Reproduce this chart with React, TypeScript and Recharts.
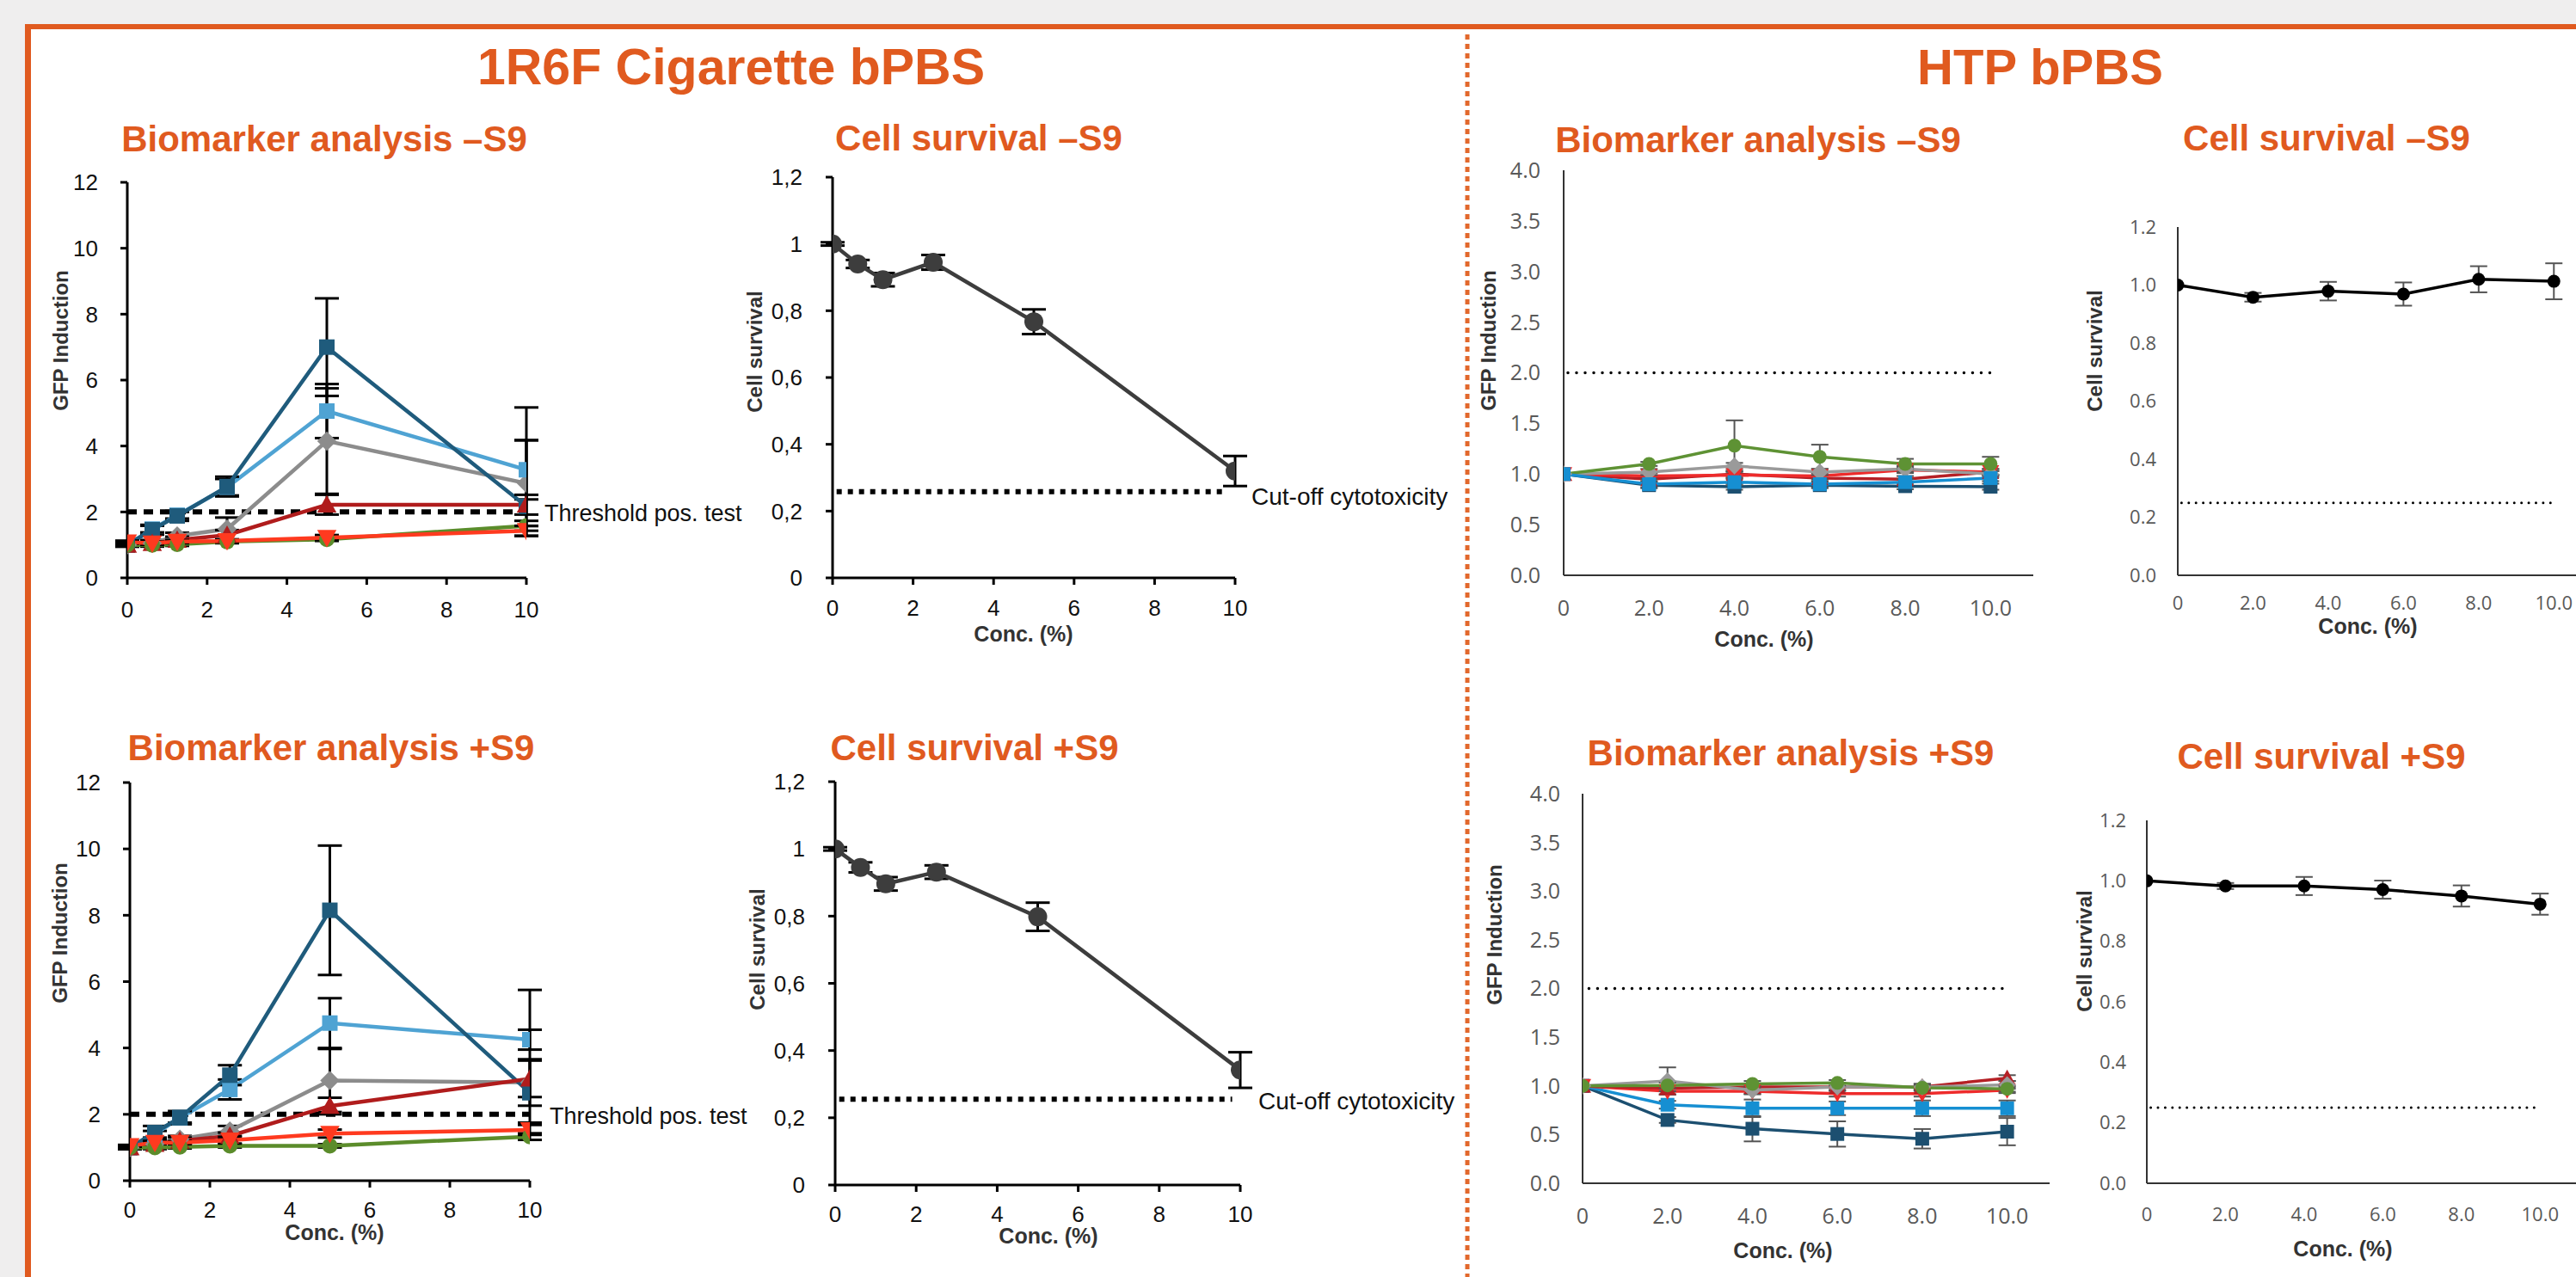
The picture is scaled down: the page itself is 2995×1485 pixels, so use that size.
import React from 'react';
import { LineChart, Line, XAxis, YAxis, ErrorBar, ReferenceLine } from 'recharts';

const ORANGE = '#e05a1f';
const ARIAL = '"Liberation Sans", Arial, Helvetica, sans-serif';
const CALIBRI = '"Open Sans", "Liberation Sans", sans-serif';

// concentrations (%)
const CONC_1R6F = [0, 0.625, 1.25, 2.5, 5, 10];
const CONC_HTP = [0, 2, 4, 6, 8, 10];

type Err = number | [number, number];

// 1R6F biomarker -S9
const A_GREY = [1.0, 1.05, 1.27, 1.48, 4.15, 2.87];
const A_GREY_ERR: Err[] = [0.05, 0.1, 0.1, 0.35, 1.6, 1.3];
const A_LIGHT_BLUE = [1.0, 1.48, 1.9, 2.75, 5.06, 3.28];
const A_LIGHT_BLUE_ERR: Err[] = [0.05, 0.1, 0.1, 0.25, 0.82, 0.9];
const A_DARK_BLUE = [1.0, 1.46, 1.88, 2.77, 7.0, 2.17];
const A_DARK_BLUE_ERR: Err[] = [0.05, 0.15, 0.15, 0.3, 1.48, [0.9, 3.0]];
const A_DARK_RED = [1.0, 1.05, 1.15, 1.3, 2.22, 2.22];
const A_DARK_RED_ERR: Err[] = [0.05, 0.05, 0.1, 0.15, 0.3, 0.3];
const A_GREEN = [1.0, 1.0, 1.02, 1.1, 1.17, 1.58];
const A_GREEN_ERR: Err[] = [0.05, 0.05, 0.05, 0.05, 0.05, 0.15];
const A_RED = [1.08, 1.05, 1.1, 1.12, 1.22, 1.43];
const A_RED_ERR: Err[] = [0.05, 0.05, 0.05, 0.05, 0.08, 0.15];

// 1R6F cell survival -S9
const B_SURVIVAL = [1.0, 0.94, 0.893, 0.945, 0.767, 0.32];
const B_ERR: Err[] = [0.005, 0.012, 0.02, 0.022, 0.037, 0.045];

// 1R6F biomarker +S9
const C_GREY = [1.0, 1.1, 1.25, 1.5, 3.02, 2.96];
const C_GREY_ERR: Err[] = [0.05, 0.1, 0.1, 0.15, 0.95, 0.7];
const C_LIGHT_BLUE = [1.0, 1.4, 1.9, 2.75, 4.75, 4.25];
const C_LIGHT_BLUE_ERR: Err[] = [0.05, 0.1, 0.15, 0.3, 0.75, 0.3];
const C_DARK_BLUE = [1.0, 1.45, 1.9, 3.18, 8.15, 2.65];
const C_DARK_BLUE_ERR: Err[] = [0.05, 0.2, 0.2, 0.3, 1.95, [0.9, 3.1]];
const C_DARK_RED = [1.0, 1.1, 1.2, 1.35, 2.25, 3.07];
const C_DARK_RED_ERR: Err[] = [0.05, 0.05, 0.1, 0.1, 0.25, 0.55];
const C_GREEN = [1.0, 1.0, 1.02, 1.05, 1.05, 1.33];
const C_GREEN_ERR: Err[] = [0.03, 0.05, 0.05, 0.05, 0.05, 0.1];
const C_RED = [1.05, 1.15, 1.15, 1.22, 1.42, 1.53];
const C_RED_ERR: Err[] = [0.03, 0.05, 0.05, 0.1, 0.12, 0.15];

// 1R6F cell survival +S9
const D_SURVIVAL = [1.0, 0.945, 0.896, 0.931, 0.798, 0.342];
const D_ERR: Err[] = [0.005, 0.015, 0.02, 0.02, 0.042, 0.053];

// HTP biomarker -S9
const E_DARK_BLUE = [1.0, 0.89, 0.875, 0.89, 0.88, 0.875];
const E_LIGHT_BLUE = [1.0, 0.9, 0.92, 0.9, 0.92, 0.96];
const E_DARK_RED = [1.0, 0.95, 1.0, 0.96, 0.95, 1.02];
const E_RED = [1.0, 0.98, 0.99, 0.98, 1.04, 1.02];
const E_GREY = [1.0, 1.02, 1.08, 1.02, 1.05, 1.0];
const E_GREEN = [1.0, 1.1, 1.28, 1.17, 1.1, 1.1];
const E_SMALL_ERR: Err[] = [0, 0.03, 0.03, 0.03, 0.03, 0.03];
const E_GREEN_ERR: Err[] = [0, 0.02, 0.25, 0.12, 0.05, 0.07];

// HTP cell survival -S9
const F_SURVIVAL = [1.0, 0.958, 0.979, 0.969, 1.02, 1.013];
const F_ERR: Err[] = [0, 0.015, 0.032, 0.04, 0.045, 0.062];

// HTP biomarker +S9
const G_DARK_BLUE = [1.0, 0.65, 0.56, 0.506, 0.457, 0.53];
const G_DARK_BLUE_ERR: Err[] = [0, 0.03, 0.13, 0.13, 0.1, 0.14];
const G_LIGHT_BLUE = [1.0, 0.806, 0.77, 0.77, 0.77, 0.77];
const G_LIGHT_BLUE_ERR: Err[] = [0, 0.04, 0.09, 0.07, 0.08, 0.08];
const G_DARK_RED = [1.0, 0.975, 0.99, 0.99, 0.99, 1.08];
const G_RED = [1.0, 0.945, 0.945, 0.92, 0.92, 0.956];
const G_GREY = [1.0, 1.05, 0.956, 0.99, 0.99, 1.01];
const G_GREY_ERR: Err[] = [0, 0.14, 0.04, 0.04, 0.03, 0.04];
const G_GREEN = [1.0, 1.005, 1.02, 1.03, 0.98, 0.97];
const G_SMALL_ERR: Err[] = [0, 0.03, 0.03, 0.03, 0.03, 0.03];

// HTP cell survival +S9
const H_SURVIVAL = [1.0, 0.983, 0.983, 0.971, 0.95, 0.923];
const H_ERR: Err[] = [0, 0.01, 0.03, 0.03, 0.035, 0.035];

const GFP_TICKS_1R6F = [0, 2, 4, 6, 8, 10, 12];
const GFP_TICKS_HTP = [0, 0.5, 1, 1.5, 2, 2.5, 3, 3.5, 4];
const SURV_TICKS = [0, 0.2, 0.4, 0.6, 0.8, 1, 1.2];
const X_TICKS = [0, 2, 4, 6, 8, 10];

type Shape = 'square' | 'circle' | 'diamond' | 'triUp' | 'triDown';
type Series = { key: string; values: number[]; errors: Err[]; color: string; shape: Shape };

const C1 = { db: '#1f5b7c', lb: '#4fa3d3', gr: '#8c8c8c', dr: '#b01c1c', gn: '#5b8c2b', rd: '#ff3a1f' };
const C2 = { db: '#1c4f70', lb: '#168fd2', gr: '#9a9a9a', dr: '#b52025', gn: '#5e9234', rd: '#ee2b2b' };

const makeDot = (shape: Shape, size: number, fill: string) => (p: any) => {
  const { cx, cy, index } = p;
  const k = `${shape}-${index}`;
  if (cx == null || cy == null) return <g key={k} />;
  const h = size / 2;
  if (shape === 'square') return <rect key={k} x={cx - h} y={cy - h} width={size} height={size} fill={fill} />;
  if (shape === 'circle') return <circle key={k} cx={cx} cy={cy} r={h} fill={fill} />;
  const d = h * 1.25;
  let pts = '';
  if (shape === 'diamond') pts = `${cx},${cy - d} ${cx + d},${cy} ${cx},${cy + d} ${cx - d},${cy}`;
  if (shape === 'triUp') pts = `${cx},${cy - d} ${cx + d},${cy + h} ${cx - d},${cy + h}`;
  if (shape === 'triDown') pts = `${cx},${cy + d} ${cx + d},${cy - h} ${cx - d},${cy - h}`;
  return <polygon key={k} points={pts} fill={fill} />;
};

type PanelCfg = {
  box: [number, number, number, number];
  plot: [number, number, number, number];
  xs: number[];
  series: Series[];
  xDomain: [number, number];
  xFmt: (v: number) => string;
  yDomain: [number, number];
  yTicks: number[];
  yFmt: (v: number) => string;
  excel: boolean;
  tickFont: number;
  xGap: number;
  yGap: number;
  lineWidth: number;
  marker: number;
  errColor: string;
  errWidth: number;
  cap: number;
  ref: { y: number; x0: number; x1: number; width: number; dash: string; round?: boolean };
};

function Panel({ cfg }: { cfg: PanelCfg }) {
  const [L, T, W, H] = cfg.box;
  const [px0, py0, px1, py1] = cfg.plot;
  const rows = cfg.xs.map((x, i) => {
    const r: any = { x };
    cfg.series.forEach((s) => {
      r[s.key] = s.values[i];
      r[s.key + 'E'] = s.errors[i];
    });
    return r;
  });
  const axis = cfg.excel ? { stroke: '#333', strokeWidth: 2 } : { stroke: '#000', strokeWidth: 3 };
  const tick = cfg.excel
    ? { fill: '#595959', fontSize: cfg.tickFont, fontFamily: CALIBRI }
    : { fill: '#111', fontSize: cfg.tickFont, fontFamily: ARIAL };
  const ts = cfg.excel ? 0 : 8;
  return (
    <div style={{ position: 'absolute', left: L, top: T, width: W, height: H }}>
      <LineChart width={W} height={H} data={rows} margin={{ top: py0 - T, right: L + W - px1, bottom: 0, left: 0 }}>
        <XAxis
          type="number"
          dataKey="x"
          domain={cfg.xDomain}
          ticks={X_TICKS}
          interval={0}
          height={T + H - py1}
          axisLine={axis}
          tickLine={cfg.excel ? false : axis}
          tickSize={ts}
          tickMargin={cfg.xGap - ts}
          tick={tick}
          tickFormatter={cfg.xFmt}
          allowDataOverflow
        />
        <YAxis
          type="number"
          domain={cfg.yDomain}
          ticks={cfg.yTicks}
          interval={0}
          width={px0 - L}
          axisLine={axis}
          tickLine={cfg.excel ? false : axis}
          tickSize={ts}
          tickMargin={cfg.yGap - ts}
          tick={tick}
          tickFormatter={cfg.yFmt}
          allowDataOverflow
        />
        <ReferenceLine
          segment={[{ x: cfg.ref.x0, y: cfg.ref.y }, { x: cfg.ref.x1, y: cfg.ref.y }]}
          stroke="#000"
          strokeWidth={cfg.ref.width}
          strokeDasharray={cfg.ref.dash}
          strokeLinecap={cfg.ref.round ? 'round' : 'butt'}
          ifOverflow="visible"
        />
        {cfg.series.map((s) => (
          <Line
            key={s.key}
            type="linear"
            dataKey={s.key}
            stroke={s.color}
            strokeWidth={cfg.lineWidth}
            dot={makeDot(s.shape, cfg.marker, s.color)}
            activeDot={false}
            isAnimationActive={false}
          >
            <ErrorBar dataKey={s.key + 'E'} direction="y" width={cfg.cap} strokeWidth={cfg.errWidth} stroke={cfg.errColor} />
          </Line>
        ))}
      </LineChart>
    </div>
  );
}

const intFmt = (v: number) => String(v);
const commaFmt = (v: number) => String(v).replace('.', ',');
const htpXFmt = (v: number) => (v === 0 ? '0' : v.toFixed(1));
const oneDec = (v: number) => v.toFixed(1);

const sigmaBase = {
  xs: CONC_1R6F,
  xDomain: [0, 10] as [number, number],
  xFmt: intFmt,
  excel: false,
  tickFont: 26,
  errColor: '#000',
  errWidth: 3,
};
const excelBase = {
  xs: CONC_HTP,
  xDomain: [0, 11] as [number, number],
  xFmt: htpXFmt,
  excel: true,
  errColor: '#555',
  errWidth: 2,
};

const bioSeries1 = (
  gr: number[], grE: Err[], lb: number[], lbE: Err[], db: number[], dbE: Err[],
  dr: number[], drE: Err[], gn: number[], gnE: Err[], rd: number[], rdE: Err[]
): Series[] => [
  { key: 'gr', values: gr, errors: grE, color: C1.gr, shape: 'diamond' },
  { key: 'lb', values: lb, errors: lbE, color: C1.lb, shape: 'square' },
  { key: 'db', values: db, errors: dbE, color: C1.db, shape: 'square' },
  { key: 'dr', values: dr, errors: drE, color: C1.dr, shape: 'triUp' },
  { key: 'gn', values: gn, errors: gnE, color: C1.gn, shape: 'circle' },
  { key: 'rd', values: rd, errors: rdE, color: C1.rd, shape: 'triDown' },
];

const PANELS: PanelCfg[] = [
  {
    ...sigmaBase,
    box: [40, 180, 600, 570],
    plot: [148, 212, 612, 672],
    series: bioSeries1(A_GREY, A_GREY_ERR, A_LIGHT_BLUE, A_LIGHT_BLUE_ERR, A_DARK_BLUE, A_DARK_BLUE_ERR,
      A_DARK_RED, A_DARK_RED_ERR, A_GREEN, A_GREEN_ERR, A_RED, A_RED_ERR),
    yDomain: [0, 12], yTicks: GFP_TICKS_1R6F, yFmt: intFmt,
    xGap: 28, yGap: 34, lineWidth: 4.5, marker: 18, cap: 14,
    ref: { y: 2, x0: 0, x1: 10, width: 6, dash: '11 8' },
  },
  {
    ...sigmaBase,
    box: [860, 175, 610, 575],
    plot: [968, 206, 1436, 672],
    series: [{ key: 'cs', values: B_SURVIVAL, errors: B_ERR, color: '#3d3d3d', shape: 'circle' }],
    yDomain: [0, 1.2], yTicks: SURV_TICKS, yFmt: commaFmt,
    xGap: 26, yGap: 35, lineWidth: 4.5, marker: 22, cap: 14,
    ref: { y: 0.258, x0: 0.1, x1: 9.8, width: 6, dash: '6 7' },
  },
  {
    ...sigmaBase,
    box: [40, 880, 600, 585],
    plot: [151, 910, 616, 1373],
    series: bioSeries1(C_GREY, C_GREY_ERR, C_LIGHT_BLUE, C_LIGHT_BLUE_ERR, C_DARK_BLUE, C_DARK_BLUE_ERR,
      C_DARK_RED, C_DARK_RED_ERR, C_GREEN, C_GREEN_ERR, C_RED, C_RED_ERR),
    yDomain: [0, 12], yTicks: GFP_TICKS_1R6F, yFmt: intFmt,
    xGap: 25, yGap: 34, lineWidth: 4.5, marker: 18, cap: 14,
    ref: { y: 2, x0: 0, x1: 10, width: 6, dash: '11 8' },
  },
  {
    ...sigmaBase,
    box: [860, 880, 610, 585],
    plot: [971, 909, 1442, 1378],
    series: [{ key: 'cs', values: D_SURVIVAL, errors: D_ERR, color: '#3d3d3d', shape: 'circle' }],
    yDomain: [0, 1.2], yTicks: SURV_TICKS, yFmt: commaFmt,
    xGap: 25, yGap: 35, lineWidth: 4.5, marker: 22, cap: 14,
    ref: { y: 0.255, x0: 0.1, x1: 9.8, width: 6, dash: '6 7' },
  },
  {
    ...excelBase,
    box: [1730, 165, 660, 585],
    plot: [1818, 198, 2364, 669],
    series: [
      { key: 'db', values: E_DARK_BLUE, errors: E_SMALL_ERR, color: C2.db, shape: 'square' },
      { key: 'dr', values: E_DARK_RED, errors: E_SMALL_ERR, color: C2.dr, shape: 'triUp' },
      { key: 'rd', values: E_RED, errors: E_SMALL_ERR, color: C2.rd, shape: 'triDown' },
      { key: 'gr', values: E_GREY, errors: E_SMALL_ERR, color: C2.gr, shape: 'diamond' },
      { key: 'gn', values: E_GREEN, errors: E_GREEN_ERR, color: C2.gn, shape: 'circle' },
      { key: 'lb', values: E_LIGHT_BLUE, errors: E_SMALL_ERR, color: C2.lb, shape: 'square' },
    ],
    yDomain: [0, 4], yTicks: GFP_TICKS_HTP, yFmt: oneDec, tickFont: 25,
    xGap: 29, yGap: 27, lineWidth: 3.5, marker: 16, cap: 10,
    ref: { y: 2, x0: 0.1, x1: 10, width: 3.5, dash: '0.01 10', round: true },
  },
  {
    ...excelBase,
    box: [2440, 230, 600, 520],
    plot: [2532, 264, 3013, 669],
    series: [{ key: 'cs', values: F_SURVIVAL, errors: F_ERR, color: '#000', shape: 'circle' }],
    yDomain: [0, 1.2], yTicks: SURV_TICKS, yFmt: oneDec, tickFont: 22,
    xGap: 24, yGap: 25, lineWidth: 3.5, marker: 15, cap: 10,
    ref: { y: 0.25, x0: 0.1, x1: 10, width: 3, dash: '0.01 8.4', round: true },
  },
  {
    ...excelBase,
    box: [1740, 890, 660, 575],
    plot: [1840, 923, 2383, 1376],
    series: [
      { key: 'db', values: G_DARK_BLUE, errors: G_DARK_BLUE_ERR, color: C2.db, shape: 'square' },
      { key: 'lb', values: G_LIGHT_BLUE, errors: G_LIGHT_BLUE_ERR, color: C2.lb, shape: 'square' },
      { key: 'rd', values: G_RED, errors: G_SMALL_ERR, color: C2.rd, shape: 'triDown' },
      { key: 'dr', values: G_DARK_RED, errors: G_SMALL_ERR, color: C2.dr, shape: 'triUp' },
      { key: 'gr', values: G_GREY, errors: G_GREY_ERR, color: C2.gr, shape: 'diamond' },
      { key: 'gn', values: G_GREEN, errors: G_SMALL_ERR, color: C2.gn, shape: 'circle' },
    ],
    yDomain: [0, 4], yTicks: GFP_TICKS_HTP, yFmt: oneDec, tickFont: 25,
    xGap: 29, yGap: 26, lineWidth: 3.5, marker: 16, cap: 10,
    ref: { y: 2, x0: 0.15, x1: 10, width: 3.5, dash: '0.01 10', round: true },
  },
  {
    ...excelBase,
    box: [2410, 920, 620, 550],
    plot: [2496, 954, 2999, 1376],
    series: [{ key: 'cs', values: H_SURVIVAL, errors: H_ERR, color: '#000', shape: 'circle' }],
    yDomain: [0, 1.2], yTicks: SURV_TICKS, yFmt: oneDec, tickFont: 22,
    xGap: 28, yGap: 24, lineWidth: 3.5, marker: 15, cap: 10,
    ref: { y: 0.25, x0: 0.1, x1: 10, width: 3, dash: '0.01 8.4', round: true },
  },
];

// overlay texts
const SECTION_TITLES = [
  { t: '1R6F Cigarette bPBS', x: 850, y: 98, s: 59 },
  { t: 'HTP bPBS', x: 2372, y: 98, s: 58 },
];
const PANEL_TITLES = [
  { t: 'Biomarker analysis –S9', x: 377, y: 176 },
  { t: 'Cell survival –S9', x: 1138, y: 175 },
  { t: 'Biomarker analysis +S9', x: 385, y: 884 },
  { t: 'Cell survival +S9', x: 1133, y: 884 },
  { t: 'Biomarker analysis –S9', x: 2044, y: 177 },
  { t: 'Cell survival –S9', x: 2705, y: 175 },
  { t: 'Biomarker analysis +S9', x: 2082, y: 890 },
  { t: 'Cell survival +S9', x: 2699, y: 894 },
];
const Y_LABELS = [
  { t: 'GFP Induction', x: 70, y: 396 },
  { t: 'Cell survival', x: 877, y: 409 },
  { t: 'GFP Induction', x: 69, y: 1085 },
  { t: 'Cell survival', x: 880, y: 1104 },
  { t: 'GFP Induction', x: 1730, y: 396 },
  { t: 'Cell survival', x: 2435, y: 408 },
  { t: 'GFP Induction', x: 1737, y: 1087 },
  { t: 'Cell survival', x: 2423, y: 1106 },
];
const X_LABELS = [
  { x: 1190, y: 737 },
  { x: 389, y: 1433 },
  { x: 1219, y: 1437 },
  { x: 2051, y: 743 },
  { x: 2753, y: 728 },
  { x: 2073, y: 1454 },
  { x: 2724, y: 1452 },
];
const NOTES = [
  { t: 'Threshold pos. test', x: 633, y: 606, s: 27 },
  { t: 'Threshold pos. test', x: 639, y: 1307, s: 27 },
  { t: 'Cut-off cytotoxicity', x: 1455, y: 587, s: 28 },
  { t: 'Cut-off cytotoxicity', x: 1463, y: 1290, s: 28 },
];

export default function App() {
  return (
    <div style={{ position: 'fixed', left: 0, top: 0, width: 2995, height: 1485, overflow: 'hidden', background: '#efeeee' }}>
      <style>{'body{margin:0;overflow:hidden}'}</style>
      {/* frame */}
      <div style={{ position: 'absolute', left: 36, top: 34, width: 2959, height: 1451, background: '#fff' }} />
      <div style={{ position: 'absolute', left: 29, top: 28, width: 2966, height: 6, background: ORANGE }} />
      <div style={{ position: 'absolute', left: 29, top: 28, width: 7, height: 1457, background: ORANGE }} />

      {PANELS.map((p, i) => (
        <Panel key={i} cfg={p} />
      ))}

      <svg width={2995} height={1485} style={{ position: 'absolute', left: 0, top: 0, pointerEvents: 'none' }}>
        <line x1={1706} y1={40} x2={1706} y2={1485} stroke="#e2682c" strokeWidth={5} strokeDasharray="6 5" />
        {SECTION_TITLES.map((d, i) => (
          <text key={'s' + i} x={d.x} y={d.y} textAnchor="middle" fontFamily={ARIAL} fontWeight="bold" fontSize={d.s} fill={ORANGE}>
            {d.t}
          </text>
        ))}
        {PANEL_TITLES.map((d, i) => (
          <text key={'p' + i} x={d.x} y={d.y} textAnchor="middle" fontFamily={ARIAL} fontWeight="bold" fontSize={42} fill={ORANGE}>
            {d.t}
          </text>
        ))}
        {Y_LABELS.map((d, i) => (
          <text
            key={'y' + i}
            x={d.x}
            y={d.y}
            transform={`rotate(-90 ${d.x} ${d.y})`}
            textAnchor="middle"
            dominantBaseline="central"
            fontFamily={ARIAL}
            fontWeight="bold"
            fontSize={24}
            fill="#333"
          >
            {d.t}
          </text>
        ))}
        {X_LABELS.map((d, i) => (
          <text key={'x' + i} x={d.x} y={d.y} textAnchor="middle" dominantBaseline="central" fontFamily={ARIAL} fontWeight="bold" fontSize={25} fill="#333">
            Conc. (%)
          </text>
        ))}
        {NOTES.map((d, i) => (
          <text key={'n' + i} x={d.x} y={d.y} fontFamily={ARIAL} fontSize={d.s} fill="#111">
            {d.t}
          </text>
        ))}
      </svg>
    </div>
  );
}
